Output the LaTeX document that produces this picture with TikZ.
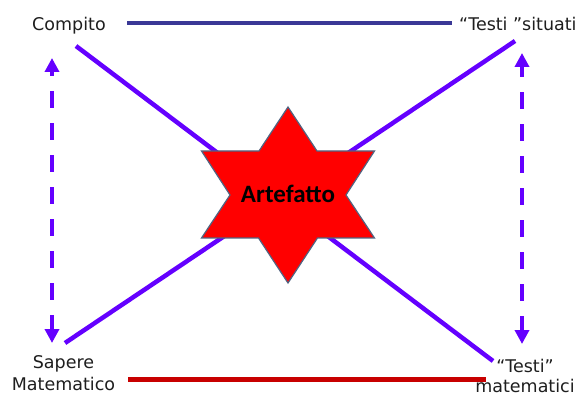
\documentclass[tikz,border=0pt]{standalone}
\usepackage{fontspec}
\setmainfont{DejaVu Sans}
\newfontfamily\artfont{Carlito}
\usetikzlibrary{arrows.meta}
\definecolor{navyline}{RGB}{58,56,150}
\definecolor{redline}{RGB}{200,0,0}
\definecolor{violetline}{RGB}{100,0,255}
\definecolor{starred}{RGB}{255,0,0}
\definecolor{starborder}{RGB}{80,100,130}
\definecolor{labeltext}{RGB}{30,30,30}
\tikzset{
  lbl/.style={inner sep=0pt, text=labeltext, font=\fontsize{17.5}{22}\selectfont},
  diag/.style={draw=violetline, line width=4.5pt},
  dasharrow/.style={draw=violetline, line width=4.5pt, dash pattern=on 17pt off 15pt, dash phase=2pt,
     arrows={Triangle[width=14pt,length=14pt]-Triangle[width=14pt,length=14pt]}},
  starshape/.style={fill=starred, draw=starborder, line width=1.2pt, line join=miter}
}
\begin{document}
\begin{tikzpicture}[x=1pt,y=-1pt]
\useasboundingbox (0,0) rectangle (581,398);
% labels
\node[lbl, anchor=base west] (compito) at (32,31) {Compito};
\node[lbl, anchor=base west] (situati) at (459,31) {“Testi ”situati};
\node[lbl, anchor=north, align=center] (sapere) at (63.5,355) {Sapere\\Matematico};
\node[lbl, anchor=north, align=center, font=\fontsize{17.5}{20.5}\selectfont] (testimat) at (525,359) {“Testi”\\matematici};
% line endpoints
\coordinate (tl) at (76,46);
\coordinate (br) at (493,361);
\coordinate (tr) at (515,41);
\coordinate (bl) at (65,343);
\coordinate (ltop) at (52,58);
\coordinate (lbot) at (52,343);
\coordinate (rtop) at (522,53);
\coordinate (rbot) at (522,344);
\coordinate (bluea) at (127,23);
\coordinate (blueb) at (452,23);
\coordinate (reda) at (128,379);
\coordinate (redb) at (486,379);
% connectors
\draw[draw=navyline, line width=4.5pt] (bluea) -- (blueb);
\draw[draw=redline, line width=5pt] (reda) -- (redb);
\draw[diag] (tl) -- (br);
\draw[diag] (tr) -- (bl);
\draw[dasharrow] (lbot) -- (ltop);
\draw[dasharrow] (rbot) -- (rtop);
% star
\draw[starshape] (288,107) -- (317,151) -- (374.5,151) -- (346,195) -- (374.5,238)
  -- (317.5,238) -- (288,283) -- (258.5,238) -- (201.5,238) -- (230,195)
  -- (201.5,151) -- (259,151) -- cycle;
\node[inner sep=0pt, anchor=base, text=black, font=\artfont\bfseries\fontsize{25}{28}\selectfont] (artefatto) at (288,203) {Artefatto};
\end{tikzpicture}
\end{document}
